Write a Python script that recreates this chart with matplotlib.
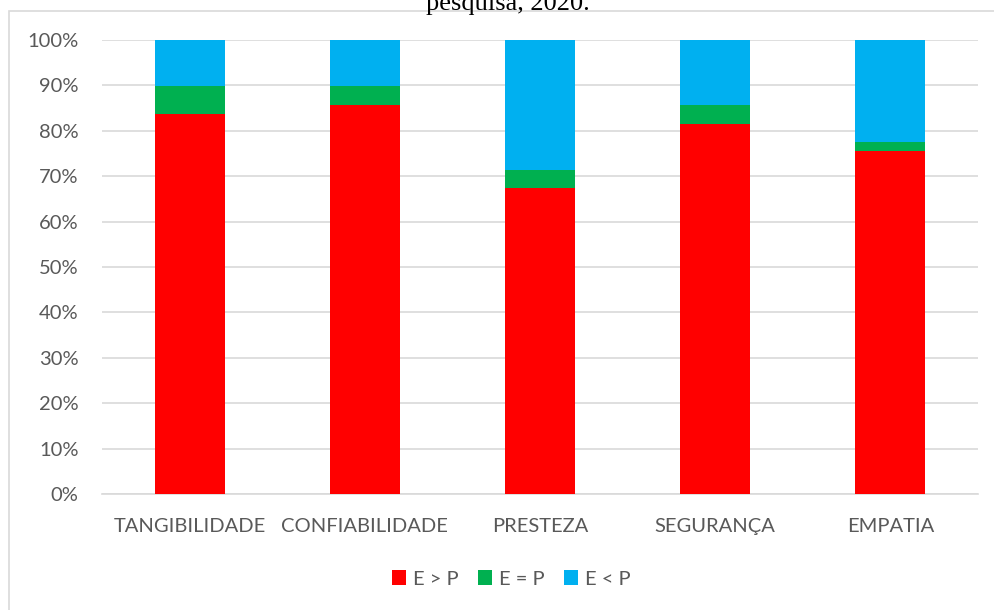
import matplotlib.pyplot as plt
import matplotlib.patches as mpatches
import numpy as np

# Dados (percentuais)
categorias = ["TANGIBILIDADE", "CONFIABILIDADE", "PRESTEZA", "SEGURANÇA", "EMPATIA"]
e_maior_p = [83.7, 85.7, 67.3, 81.6, 75.5]
e_igual_p = [6.1, 4.1, 4.1, 4.1, 2.0]
e_menor_p = [10.2, 10.2, 28.6, 14.3, 22.4]

series = ["E > P", "E = P", "E < P"]
cores = ["#FF0000", "#00B050", "#00B0F0"]

plt.rcParams['font.family'] = ['Lato', 'DejaVu Sans']
cinza = "#595959"

fig = plt.figure(figsize=(9.95, 6.1), dpi=100)
ax = fig.add_axes([102 / 995, 1 - 494 / 610, 876 / 995, 454 / 610])

x = np.arange(len(categorias))
base = np.zeros(len(categorias))
for nome, valores, cor in zip(series, [e_maior_p, e_igual_p, e_menor_p], cores):
    ax.bar(x, valores, 0.4, bottom=base, color=cor, label=nome, zorder=3)
    base += np.array(valores)

ax.set_xlim(-0.5, len(categorias) - 0.5)
ax.set_ylim(0, 100)
ax.set_yticks(range(0, 101, 10))
ax.set_yticklabels([f"{v}%" for v in range(0, 101, 10)])
ax.set_xticks(x)
ax.set_xticklabels(categorias)
ax.yaxis.grid(True, color="#D9D9D9", linewidth=1.2, zorder=0)
ax.set_axisbelow(True)
for lado in ["top", "right", "left"]:
    ax.spines[lado].set_visible(False)
ax.spines["bottom"].set_color("#D9D9D9")
ax.spines["bottom"].set_linewidth(1.2)
ax.tick_params(axis="both", length=0, colors=cinza, labelsize=14.5)
ax.tick_params(axis="y", pad=17)
ax.tick_params(axis="x", pad=17)

fig.legend(loc="center", bbox_to_anchor=(511 / 995, 1 - 579 / 610), ncol=3,
           frameon=False, fontsize=14.5, labelcolor=cinza,
           handlelength=0.7, handleheight=0.7, handletextpad=0.35,
           columnspacing=0.95)

# Moldura do gráfico (cortada à direita e embaixo)
moldura = mpatches.Rectangle((9 / 995, -0.1), 1.2, 1 - 11.5 / 610 + 0.1,
                             transform=fig.transFigure, fill=False,
                             edgecolor="#D9D9D9", linewidth=1.2)
fig.patches.append(moldura)

# Título cortado no topo
fig.text(508 / 995, 1 - 10 / 610, "pesquisa, 2020.", ha="center", va="baseline",
         fontsize=19, family=["Liberation Serif", "DejaVu Serif"], color="black")

fig.savefig("out.png", dpi=100)
